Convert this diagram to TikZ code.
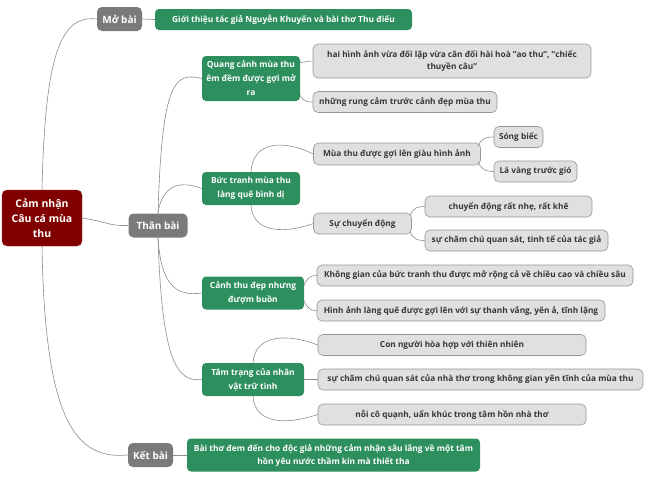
\documentclass[tikz,border=0pt]{standalone}
\usepackage{fontspec}
\setmainfont{Open Sans}
\usetikzlibrary{calc}
\definecolor{mgreen}{RGB}{46,143,94}
\definecolor{mgray}{RGB}{122,122,122}
\definecolor{leaffill}{RGB}{224,224,224}
\definecolor{leafdraw}{RGB}{150,150,150}
\definecolor{rootred}{RGB}{128,0,0}
\definecolor{linegray}{RGB}{140,140,140}
\definecolor{leaftext}{RGB}{55,55,55}
\tikzset{
  base/.style={inner sep=0pt, align=center, font=\bfseries},
  rootbox/.style={base, fill=rootred, draw=rootred!80!white, rounded corners=5pt, text=white,
    font=\bfseries\fontsize{10.5}{15}\selectfont},
  secbox/.style={base, fill=mgray, rounded corners=5pt, text=white,
    font=\bfseries\fontsize{10}{13}\selectfont},
  greenbox/.style={base, fill=mgreen, rounded corners=4pt, text=white,
    font=\bfseries\fontsize{8.4}{14}\selectfont},
  greenwide/.style={greenbox, font=\bfseries\fontsize{8.4}{13}\selectfont},
  leafbox/.style={base, fill=leaffill, draw=leafdraw, line width=0.6pt, rounded corners=5pt, text=leaftext,
    font=\bfseries\fontsize{8.3}{12.5}\selectfont},
  conn/.style={draw=linegray, line width=0.6pt},
}
\begin{document}
\begin{tikzpicture}[x=1pt,y=-1pt]
\useasboundingbox (0,0) rectangle (650,477);
% root and sections
\node[rootbox, minimum width=80pt, minimum height=56pt] (root) at (42,218) {Cảm nhận\\Câu cá mùa\\thu};
\node[secbox, minimum width=45pt, minimum height=24pt] (mo) at (119.5,19) {Mở bài};
\node[secbox, minimum width=59pt, minimum height=24pt] (than) at (158,225.5) {Thân bài};
\node[secbox, minimum width=45pt, minimum height=24pt] (ket) at (150.5,455) {Kết bài};
% Mo bai
\node[greenbox, minimum width=257pt, minimum height=21pt] (mo1) at (283.5,19.5) {Giới thiệu tác giả Nguyễn Khuyến và bài thơ Thu điếu};
% Ket bai
\node[greenwide, minimum width=293pt, minimum height=33pt] (ket1) at (333.5,455) {Bài thơ đem đến cho độc giả những cảm nhận sâu lắng về một tâm\\hồn yêu nước thầm kín mà thiết tha};
% Than bai groups
\node[greenbox, minimum width=98pt, minimum height=45pt] (qc) at (251,78.5) {Quang cảnh mùa thu\\êm đềm được gợi mở\\ra};
\node[greenbox, minimum width=98pt, minimum height=33pt] (bt) at (251,188.5) {Bức tranh mùa thu\\làng quê bình dị};
\node[greenbox, minimum width=102pt, minimum height=33pt] (ct) at (253,293) {Cảnh thu đẹp nhưng\\đượm buồn};
\node[greenbox, minimum width=102pt, minimum height=33pt] (tt) at (253,379.5) {Tâm trạng của nhân\\vật trữ tình};
% leaves
\node[leafbox, minimum width=278pt, minimum height=34pt] (qc1) at (452,61) {hai hình ảnh vừa đối lập vừa cân đối hài hoà "ao thu", "chiếc\\thuyền câu"};
\node[leafbox, minimum width=184pt, minimum height=21pt] (qc2) at (405,102) {những rung cảm trước cảnh đẹp mùa thu};
\node[leafbox, minimum width=167pt, minimum height=22pt] (bt1) at (397,154) {Mùa thu được gợi lên giàu hình ảnh};
\node[leafbox, minimum width=49pt, minimum height=21pt] (sb) at (518.5,137) {Sóng biếc};
\node[leafbox, minimum width=83pt, minimum height=21pt] (lv) at (535.5,171.5) {Lá vàng trước gió};
\node[leafbox, minimum width=98pt, minimum height=21pt] (scd) at (362.5,223.5) {Sự chuyển động};
\node[leafbox, minimum width=167pt, minimum height=21pt] (cd1) at (508.5,206.5) {chuyển động rất nhẹ, rất khẽ};
\node[leafbox, minimum width=183pt, minimum height=21pt] (cd2) at (516.5,240.5) {sự chăm chú quan sát, tinh tế của tác giả};
\node[leafbox, minimum width=316pt, minimum height=21pt] (ct1) at (475,275.5) {Không gian của bức tranh thu được mở rộng cả về chiều cao và chiều sâu};
\node[leafbox, minimum width=288pt, minimum height=21pt] (ct2) at (461,310.5) {Hình ảnh làng quê được gợi lên với sự thanh vắng, yên ả, tĩnh lặng};
\node[leafbox, minimum width=268pt, minimum height=21pt] (tt1) at (452,345) {Con người hòa hợp với thiên nhiên};
\node[leafbox, minimum width=325pt, minimum height=21pt] (tt2) at (480.5,379.5) {sự chăm chú quan sát của nhà thơ trong không gian yên tĩnh của mùa thu};
\node[leafbox, minimum width=268pt, minimum height=21pt] (tt3) at (452,414.5) {nỗi cô quạnh, uẩn khúc trong tâm hồn nhà thơ};
% connectors
\path[conn] (root.north) .. controls (45,50) and (62,15) .. (mo.west);
\path[conn] (root.east) .. controls (108,222) and (108,226) .. (than.west);
\path[conn] (root.south) .. controls (45,420) and (75,460) .. (ket.west);
\path[conn] (mo.east) -- (mo1.west);
\path[conn] (ket.east) -- (ket1.west);
\path[conn] (than.north) .. controls (162,80) and (175,72) .. (qc.west);
\path[conn] (than.north) .. controls (162,185) and (180,180) .. (bt.west);
\path[conn] (than.south) .. controls (161,290) and (180,296) .. (ct.west);
\path[conn] (than.south) .. controls (162,365) and (178,382) .. (tt.west);
\path[conn] ($(qc.east)+(0,-16)$) .. controls (306,62) and (308,61) .. (qc1.west);
\path[conn] ($(qc.east)+(0,17)$) .. controls (304,102) and (308,102) .. (qc2.west);
\path[conn] (bt.north) .. controls (253,140) and (285,140) .. (bt1.west);
\path[conn] (bt.south) .. controls (253,236) and (290,232) .. (scd.west);
\path[conn] ($(bt1.east)+(-3,-8)$) .. controls (482,138) and (486,137) .. (sb.west);
\path[conn] ($(bt1.east)+(-3,8)$) .. controls (482,170) and (486,171.5) .. (lv.west);
\path[conn] ($(scd.east)+(-2,-8)$) .. controls (414,207) and (418,206.5) .. (cd1.west);
\path[conn] ($(scd.east)+(-2,8)$) .. controls (414,240) and (418,240.5) .. (cd2.west);
\path[conn] ($(ct.east)+(0,-8)$) .. controls (308,276) and (312,275.5) .. (ct1.west);
\path[conn] ($(ct.east)+(0,8)$) .. controls (308,310) and (312,310.5) .. (ct2.west);
\path[conn] (tt.north) .. controls (255,333) and (290,334) .. (tt1.west);
\path[conn] (tt.east) -- (tt2.west);
\path[conn] (tt.south) .. controls (255,426) and (290,424) .. (tt3.west);
\end{tikzpicture}
\end{document}
